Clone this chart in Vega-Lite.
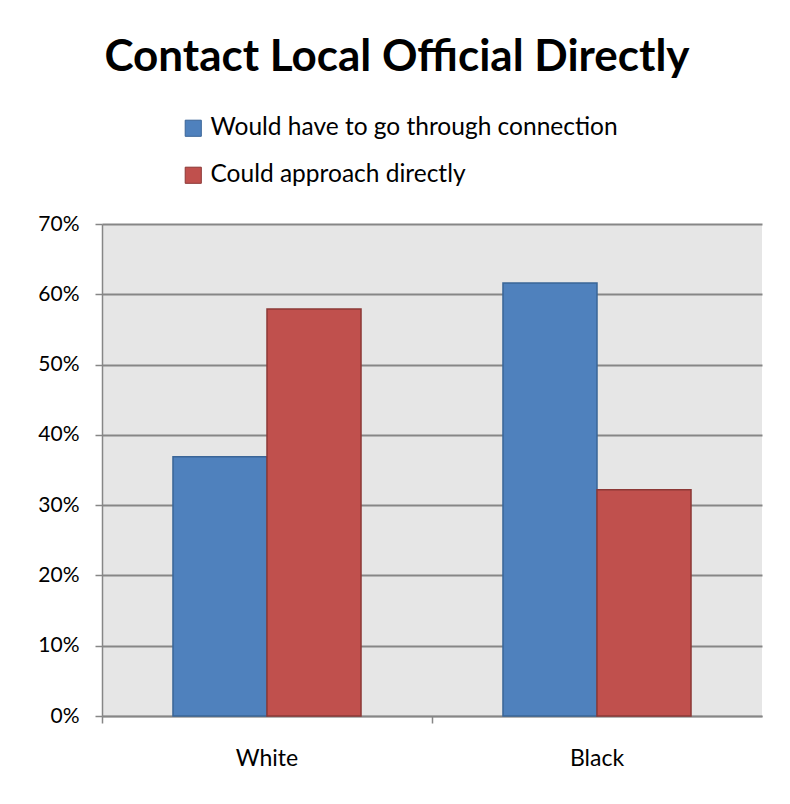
{
  "$schema": "https://vega.github.io/schema/vega-lite/v6.json",
  "autosize": "none",
  "width": 660,
  "height": 492,
  "padding": {"left": 102, "top": 224, "right": 28, "bottom": 88},
  "background": "white",
  "title": {
    "text": "Contact Local Official Directly",
    "font": "Lato",
    "fontSize": 44,
    "fontWeight": "bold",
    "color": "black",
    "anchor": "middle",
    "dx": -35,
    "offset": 36
  },
  "data": {
    "values": [
      {"group": "White", "series": "Would have to go through connection", "value": 0.369},
      {"group": "White", "series": "Could approach directly", "value": 0.579},
      {"group": "Black", "series": "Would have to go through connection", "value": 0.616},
      {"group": "Black", "series": "Could approach directly", "value": 0.322}
    ]
  },
  "mark": {"type": "bar", "strokeWidth": 1.5},
  "encoding": {
    "x": {
      "field": "group",
      "type": "nominal",
      "sort": ["White", "Black"],
      "scale": {"paddingInner": 0, "paddingOuter": 0},
      "axis": {
        "title": null,
        "labelAngle": 0,
        "bandPosition": 0,
        "labelFont": "Lato",
        "labelFontSize": 23,
        "labelColor": "black",
        "labelPadding": 24,
        "domainColor": "#868686",
        "domainWidth": 1.5,
        "tickColor": "#868686",
        "tickSize": 7,
        "tickWidth": 1.5,
        "grid": false
      }
    },
    "xOffset": {
      "field": "series",
      "type": "nominal",
      "sort": ["Would have to go through connection", "Could approach directly"],
      "scale": {"paddingInner": 0, "paddingOuter": 0.755}
    },
    "y": {
      "field": "value",
      "type": "quantitative",
      "scale": {"domain": [0, 0.7], "nice": false},
      "axis": {
        "title": null,
        "format": ".0%",
        "values": [0, 0.1, 0.2, 0.3, 0.4, 0.5, 0.6, 0.7],
        "labelFont": "Lato",
        "labelFontSize": 21,
        "labelColor": "black",
        "labelPadding": 16,
        "domainColor": "#868686",
        "domainWidth": 1.5,
        "tickColor": "#868686",
        "tickSize": 7,
        "tickWidth": 1.5,
        "grid": true,
        "gridColor": "#868686",
        "gridWidth": 2
      }
    },
    "color": {
      "field": "series",
      "type": "nominal",
      "sort": ["Would have to go through connection", "Could approach directly"],
      "scale": {
        "domain": ["Would have to go through connection", "Could approach directly"],
        "range": ["#4F81BD", "#C0504D"]
      },
      "legend": {
        "title": null,
        "orient": "none",
        "legendX": 79,
        "legendY": -108,
        "direction": "vertical",
        "symbolType": "square",
        "symbolSize": 260,
        "symbolStrokeWidth": 1,
        "labelFont": "Lato",
        "labelFontSize": 24.5,
        "labelColor": "black",
        "labelLimit": 600,
        "rowPadding": 22,
        "labelOffset": 5
      }
    },
    "stroke": {
      "field": "series",
      "type": "nominal",
      "scale": {
        "domain": ["Would have to go through connection", "Could approach directly"],
        "range": ["#3A6597", "#8C3836"]
      },
      "legend": null
    }
  },
  "config": {
    "view": {"fill": "#E6E6E6", "stroke": null}
  }
}
